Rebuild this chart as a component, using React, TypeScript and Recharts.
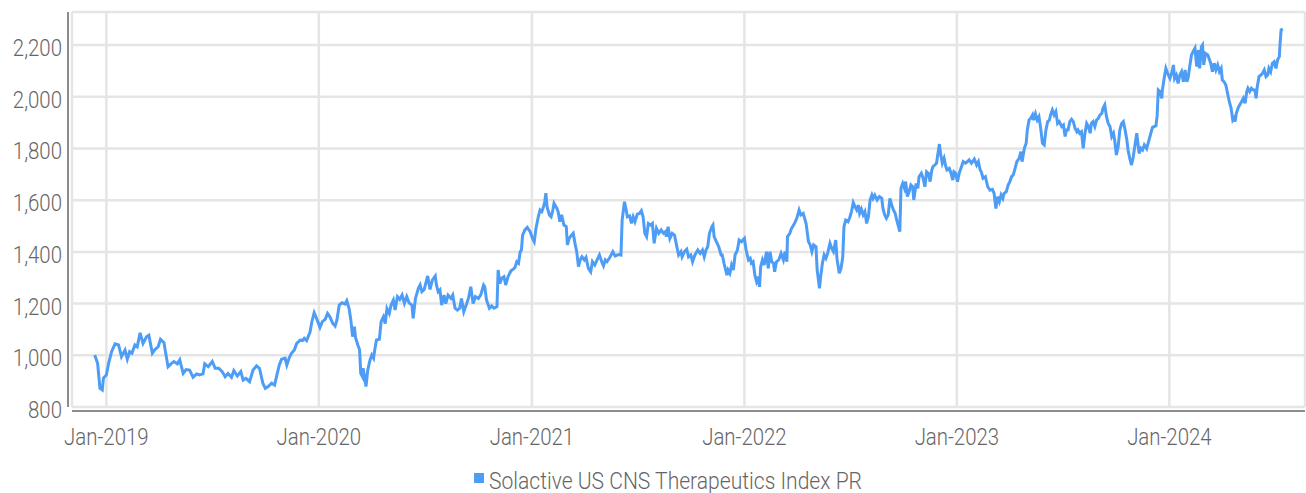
import React from "react"
import { CartesianGrid, Legend, Line, LineChart, XAxis, YAxis } from "recharts"

// day offsets from 2019-01-01 and index levels
const points2019: [number, number][] = [
  [-20, 1001], [-15, 969], [-11, 873], [-7, 866], [-5, 912], [0, 924], [4, 970], [9, 1014], [15, 1044], [21, 1040],
  [26, 995], [32, 1020], [36, 985], [40, 1014], [44, 1008], [49, 1040], [53, 1033], [58, 1087], [63, 1046], [69, 1072],
  [73, 1078], [79, 1008], [83, 1021], [89, 1033], [93, 1062], [99, 1049], [101, 1021], [106, 956], [112, 969], [116, 976],
  [122, 967], [126, 982], [132, 930], [137, 945], [143, 943], [149, 915], [155, 928], [160, 924], [166, 928], [169, 967],
  [175, 956], [182, 976], [187, 950], [193, 950], [199, 937], [204, 917], [209, 930], [215, 915], [219, 941], [225, 920],
  [231, 937], [235, 904], [240, 911], [246, 898], [252, 943], [258, 959], [263, 950], [269, 891], [273, 872], [278, 879],
  [284, 892], [289, 885], [293, 924], [297, 962], [301, 985], [307, 989], [310, 962], [314, 989], [318, 1008], [323, 1021],
  [327, 1046], [333, 1059], [337, 1057], [340, 1066], [344, 1057], [350, 1091], [353, 1130], [357, 1165], [361, 1143],
]

const points2020: [number, number][] = [
  [367, 1108], [371, 1130], [376, 1139], [380, 1162], [384, 1149], [389, 1123], [393, 1113], [396, 1136], [400, 1194], [405, 1203],
  [410, 1198], [413, 1211], [417, 1181], [420, 1136], [423, 1072], [426, 1111], [428, 1069], [432, 1040], [435, 1021], [437, 930],
  [440, 917], [441, 950], [444, 911], [446, 879], [449, 943], [453, 982], [456, 1001], [459, 989], [461, 1021], [464, 1059],
  [469, 1062], [472, 1130], [476, 1149], [479, 1123], [482, 1181], [486, 1162], [489, 1194], [493, 1214], [496, 1175], [500, 1227],
  [504, 1216], [508, 1233], [512, 1201], [516, 1227], [520, 1203], [525, 1194], [527, 1143], [531, 1220], [536, 1259], [539, 1272],
  [542, 1246], [546, 1255], [552, 1307], [556, 1255], [560, 1291], [565, 1307], [567, 1272], [570, 1246], [573, 1253], [576, 1194],
  [580, 1233], [583, 1200], [587, 1233], [592, 1220], [595, 1233], [599, 1182], [603, 1175], [607, 1182], [610, 1220], [614, 1169],
  [618, 1194], [622, 1220], [626, 1265], [630, 1200], [634, 1227], [639, 1220], [643, 1233], [648, 1272], [650, 1265], [653, 1214],
  [658, 1182], [662, 1191], [666, 1182], [671, 1188], [673, 1330], [676, 1278], [679, 1298], [683, 1304], [686, 1272], [690, 1304],
  [695, 1327], [699, 1333], [702, 1340], [705, 1362], [708, 1356], [711, 1401], [713, 1407], [715, 1465], [719, 1485], [723, 1495],
  [728, 1478],
]

const points2021: [number, number][] = [
  [732, 1452], [735, 1439], [738, 1491], [742, 1536], [745, 1562], [748, 1556], [751, 1575], [753, 1594], [755, 1627], [757, 1575],
  [761, 1543], [764, 1536], [767, 1562], [769, 1588], [774, 1568], [776, 1556], [779, 1517], [782, 1543], [786, 1504], [790, 1498],
  [792, 1427], [795, 1452], [799, 1465], [802, 1472], [805, 1433], [808, 1401], [811, 1343], [814, 1369], [817, 1381], [821, 1369],
  [824, 1379], [828, 1336], [832, 1323], [835, 1362], [839, 1349], [843, 1369], [847, 1388], [851, 1362], [854, 1346], [857, 1369],
  [860, 1362], [865, 1379], [870, 1401], [874, 1384], [878, 1388], [881, 1390], [884, 1388], [886, 1523], [890, 1594], [893, 1562],
  [895, 1536], [899, 1539], [902, 1510], [905, 1536], [908, 1517], [912, 1546], [916, 1549], [919, 1559], [922, 1536], [925, 1472],
  [928, 1459], [931, 1510], [935, 1504], [938, 1510], [941, 1433], [945, 1491], [949, 1472], [953, 1485], [957, 1472], [960, 1478],
  [962, 1459], [965, 1497], [968, 1452], [972, 1472], [976, 1465], [980, 1420], [983, 1388], [987, 1401], [989, 1381], [993, 1401],
  [997, 1410], [1000, 1381], [1004, 1388], [1007, 1362], [1011, 1388], [1016, 1407], [1020, 1394], [1024, 1407], [1027, 1381], [1030, 1407],
  [1033, 1420], [1036, 1472], [1040, 1497], [1042, 1504], [1044, 1459], [1048, 1439], [1052, 1420], [1056, 1388], [1058, 1388], [1061, 1356],
  [1066, 1310], [1068, 1330], [1071, 1317], [1074, 1349], [1077, 1330], [1080, 1388], [1084, 1407], [1087, 1446], [1091, 1439],
]

const points2022: [number, number][] = [
  [1096, 1452], [1099, 1407], [1103, 1369], [1106, 1375], [1108, 1356], [1111, 1362], [1114, 1310], [1117, 1285], [1120, 1304], [1122, 1265],
  [1124, 1343], [1127, 1369], [1130, 1349], [1134, 1401], [1137, 1336], [1140, 1401], [1143, 1362], [1146, 1356], [1148, 1323], [1151, 1362],
  [1155, 1369], [1159, 1394], [1163, 1369], [1166, 1401], [1169, 1362], [1170, 1459], [1174, 1472], [1177, 1491], [1182, 1510], [1186, 1530],
  [1190, 1562], [1193, 1543], [1197, 1549], [1202, 1510], [1206, 1440], [1209, 1427], [1212, 1401], [1215, 1427], [1219, 1420], [1221, 1330],
  [1225, 1259], [1227, 1304], [1230, 1356], [1233, 1388], [1236, 1375], [1239, 1394], [1243, 1433], [1246, 1414], [1249, 1401], [1253, 1446],
  [1255, 1375], [1259, 1317], [1262, 1336], [1265, 1381], [1267, 1497], [1270, 1523], [1274, 1517], [1277, 1533], [1280, 1556], [1283, 1591],
  [1286, 1575], [1289, 1562], [1292, 1581], [1294, 1549], [1297, 1565], [1300, 1543], [1303, 1556], [1306, 1510], [1309, 1536], [1312, 1601],
  [1315, 1620], [1317, 1607], [1320, 1620], [1324, 1601], [1328, 1614], [1332, 1607], [1334, 1568], [1337, 1543], [1340, 1530], [1343, 1543],
  [1346, 1607], [1349, 1581], [1352, 1562], [1355, 1549], [1357, 1530], [1360, 1504], [1363, 1478], [1365, 1646], [1368, 1665], [1371, 1646],
  [1373, 1672], [1376, 1614], [1379, 1633], [1382, 1659], [1385, 1652], [1387, 1601], [1391, 1665], [1394, 1646], [1396, 1691], [1400, 1704],
  [1403, 1685], [1406, 1652], [1409, 1710], [1412, 1704], [1415, 1672], [1418, 1717], [1420, 1730], [1423, 1736], [1426, 1743], [1429, 1788],
  [1431, 1817], [1433, 1781], [1436, 1743], [1439, 1762], [1442, 1730], [1444, 1717], [1448, 1723], [1451, 1704], [1454, 1678], [1456, 1710],
  [1459, 1704],
]

const points2023: [number, number][] = [
  [1462, 1672], [1465, 1704], [1469, 1730], [1472, 1749], [1476, 1743], [1479, 1749], [1482, 1756], [1486, 1743], [1491, 1759], [1495, 1736],
  [1498, 1749], [1501, 1717], [1503, 1710], [1506, 1685], [1510, 1691], [1514, 1652], [1518, 1639], [1522, 1642], [1525, 1626], [1528, 1568],
  [1531, 1613], [1534, 1594], [1537, 1620], [1540, 1607], [1542, 1626], [1546, 1633], [1549, 1659], [1552, 1672], [1555, 1691], [1558, 1698],
  [1561, 1723], [1564, 1749], [1568, 1762], [1571, 1788], [1573, 1749], [1577, 1801], [1580, 1820], [1582, 1872], [1585, 1910], [1588, 1917],
  [1591, 1930], [1593, 1910], [1596, 1934], [1599, 1910], [1602, 1923], [1605, 1878], [1608, 1820], [1611, 1814], [1614, 1872], [1617, 1904],
  [1620, 1910], [1622, 1930], [1625, 1949], [1628, 1930], [1631, 1943], [1634, 1897], [1637, 1904], [1641, 1885], [1644, 1891], [1647, 1846],
  [1649, 1872], [1652, 1872], [1655, 1904], [1658, 1913], [1661, 1904], [1664, 1878], [1667, 1865], [1669, 1872], [1672, 1859], [1675, 1865],
  [1678, 1801], [1681, 1859], [1684, 1897], [1687, 1885], [1690, 1859], [1692, 1897], [1695, 1904], [1698, 1885], [1701, 1910], [1704, 1917],
  [1707, 1930], [1710, 1936], [1712, 1956], [1715, 1969], [1718, 1923], [1721, 1897], [1724, 1885], [1727, 1846], [1730, 1859], [1732, 1833],
  [1735, 1775], [1738, 1807], [1741, 1872], [1744, 1897], [1747, 1904], [1750, 1872], [1753, 1833], [1755, 1794], [1758, 1762], [1761, 1736],
  [1764, 1768], [1767, 1814], [1770, 1859], [1772, 1820], [1774, 1781], [1777, 1801], [1780, 1794], [1783, 1814], [1787, 1800], [1793, 1849],
  [1797, 1882], [1803, 1888], [1805, 1927], [1807, 2026], [1810, 2020], [1813, 1994], [1814, 2026], [1817, 2071], [1820, 2110], [1823, 2091],
]

const points2024: [number, number][] = [
  [1827, 2071], [1830, 2091], [1833, 2123], [1835, 2071], [1838, 2084], [1841, 2052], [1844, 2084], [1847, 2097], [1850, 2058], [1853, 2104],
  [1856, 2058], [1858, 2071], [1861, 2117], [1864, 2162], [1867, 2175], [1870, 2188], [1873, 2117], [1876, 2181], [1878, 2110], [1881, 2194],
  [1883, 2201], [1885, 2123], [1888, 2168], [1892, 2162], [1894, 2149], [1897, 2130], [1900, 2097], [1903, 2130], [1906, 2104], [1909, 2123],
  [1912, 2097], [1915, 2110], [1917, 2065], [1920, 2058], [1923, 2046], [1926, 2013], [1929, 1981], [1932, 1956], [1935, 1910], [1937, 1917],
  [1939, 1904], [1941, 1936], [1944, 1956], [1947, 1969], [1950, 1981], [1953, 1994], [1956, 1975], [1959, 2020], [1961, 2033], [1964, 2020],
  [1967, 2033], [1970, 2026], [1973, 2026], [1975, 1994], [1977, 2039], [1980, 2078], [1983, 2084], [1986, 2091], [1989, 2104], [1992, 2078],
  [1995, 2084], [1997, 2110], [2000, 2097], [2003, 2130], [2006, 2136], [2009, 2110], [2012, 2143], [2015, 2156], [2016, 2201], [2018, 2259],
  [2021, 2262],
]

const SERIES_NAME = "Solactive US CNS Therapeutics Index PR"
const yearTicks = [0, 365, 731, 1096, 1461, 1826]
const yearLabels = ["Jan-2019", "Jan-2020", "Jan-2021", "Jan-2022", "Jan-2023", "Jan-2024"]
const levelTicks = [800, 1000, 1200, 1400, 1600, 1800, 2000, 2200]

const LINE_COLOR = "#4d9cf6"
const TEXT_COLOR = "#666666"
const FONT = "Roboto, 'Noto Sans', sans-serif"

const data = [...points2019, ...points2020, ...points2021, ...points2022, ...points2023, ...points2024].map(
  ([day, level]) => ({ day, level })
)

function XTick({ x, y, payload }: any) {
  const idx = yearTicks.indexOf(payload.value)
  return (
    <text
      transform={`translate(${x},${y + 30}) scale(0.85,1)`}
      textAnchor="middle"
      fill={TEXT_COLOR}
      fontSize={24}
      fontWeight={300}
      fontFamily={FONT}
    >
      {yearLabels[idx]}
    </text>
  )
}

function YTick({ x, y, payload }: any) {
  return (
    <text
      transform={`translate(${x - 2},${y + 11}) scale(0.85,1)`}
      textAnchor="end"
      fill={TEXT_COLOR}
      fontSize={24}
      fontWeight={300}
      fontFamily={FONT}
    >
      {Number(payload.value).toLocaleString("en-US")}
    </text>
  )
}

function renderLegend(props: any) {
  const item = props.payload && props.payload[0]
  return (
    <svg width={1306} height={30} style={{ display: "block", overflow: "visible" }}>
      <rect x={474} y={11} width={10} height={10} fill={item ? item.color : LINE_COLOR} />
      <text
        x={489}
        y={27}
        fill={TEXT_COLOR}
        fontSize={24}
        fontWeight={300}
        fontFamily={FONT}
        textLength={373}
        lengthAdjust="spacingAndGlyphs"
      >
        {item ? item.value : SERIES_NAME}
      </text>
    </svg>
  )
}

export default function App() {
  return (
    <div style={{ width: 1306, height: 493 }}>
      <style>{`body { margin: 0; }`}</style>
      <LineChart width={1306} height={493} data={data} margin={{ top: 12, right: 1, bottom: 16, left: 0 }}>
        <CartesianGrid stroke="#e5e5e5" strokeWidth={2.5} />
        <XAxis
          dataKey="day"
          type="number"
          domain={[-59, 2059]}
          ticks={yearTicks}
          height={40}
          tickLine={false}
          axisLine={{ stroke: "#8c8c8c", strokeWidth: 2, transform: "translate(0,4)" }}
          tick={<XTick />}
          interval={0}
        />
        <YAxis
          type="number"
          domain={[800, 2328]}
          ticks={levelTicks}
          width={72}
          tickLine={false}
          axisLine={{ stroke: "#8c8c8c", strokeWidth: 2, transform: "translate(-4,0)" }}
          tick={<YTick />}
          interval={0}
          allowDataOverflow
        />
        <Legend
          verticalAlign="bottom"
          content={renderLegend}
          wrapperStyle={{ left: 0, top: 462, width: 1306, height: 30, overflow: "visible" }}
        />
        <Line
          type="linear"
          dataKey="level"
          name={SERIES_NAME}
          stroke={LINE_COLOR}
          strokeWidth={3}
          dot={false}
          isAnimationActive={false}
        />
      </LineChart>
    </div>
  )
}
